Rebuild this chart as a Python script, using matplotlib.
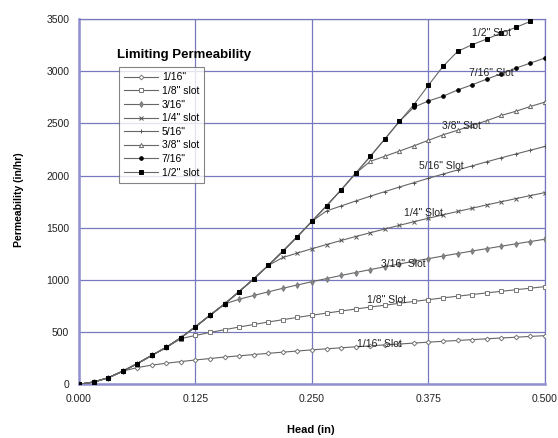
import matplotlib

matplotlib.use("Agg")
import matplotlib.pyplot as plt

plt.rcParams["font.family"] = ["Liberation Sans", "DejaVu Sans"]

# head readings (in), every 1/64"
head = [0.0000, 0.0156, 0.0313, 0.0469, 0.0625, 0.0781, 0.0938, 0.1094, 0.1250,
        0.1406, 0.1563, 0.1719, 0.1875, 0.2031, 0.2188, 0.2344, 0.2500, 0.2656,
        0.2813, 0.2969, 0.3125, 0.3281, 0.3438, 0.3594, 0.3750, 0.3906, 0.4063,
        0.4219, 0.4375, 0.4531, 0.4688, 0.4844, 0.5000]

# permeability (in/hr) for each slot width
perm_1_16 = [0, 22, 62, 126, 160, 184, 202, 218, 233, 247, 261, 273, 285, 297, 308, 319, 330,
             340, 350, 359, 368, 378, 386, 395, 404, 412, 420, 428, 436, 444, 451, 459, 466]
perm_1_8 = [0, 22, 62, 126, 198, 277, 355, 438, 468, 497, 523, 549, 573, 597, 619, 641, 662,
            682, 702, 721, 740, 758, 776, 794, 811, 828, 844, 860, 876, 891, 906, 921, 936]
perm_3_16 = [0, 22, 62, 126, 198, 277, 355, 447, 552, 662, 770, 815, 851, 886, 920, 952, 983,
             1013, 1043, 1071, 1099, 1126, 1153, 1179, 1204, 1229, 1253, 1277, 1300, 1323,
             1346, 1368, 1390]
perm_1_4 = [0, 22, 62, 126, 198, 277, 355, 447, 552, 662, 770, 889, 1010, 1139, 1215, 1258,
            1299, 1339, 1378, 1416, 1452, 1488, 1523, 1558, 1591, 1624, 1656, 1687, 1719,
            1749, 1779, 1808, 1837]
perm_5_16 = [0, 22, 62, 126, 198, 277, 355, 447, 552, 662, 770, 889, 1010, 1139, 1275, 1416,
             1562, 1661, 1709, 1756, 1802, 1846, 1890, 1932, 1974, 2014, 2054, 2093, 2132,
             2170, 2207, 2243, 2279]
perm_3_8 = [0, 22, 62, 126, 198, 277, 355, 447, 552, 662, 770, 889, 1010, 1139, 1275, 1416,
            1562, 1710, 1863, 2022, 2136, 2185, 2234, 2285, 2338, 2390, 2434, 2480, 2526,
            2576, 2616, 2662, 2704]
perm_7_16 = [0, 22, 62, 126, 198, 277, 355, 447, 552, 662, 770, 889, 1010, 1139, 1275, 1416,
             1562, 1710, 1863, 2022, 2183, 2349, 2518, 2655, 2715, 2760, 2820, 2870, 2924,
             2976, 3029, 3078, 3126]
perm_1_2 = [0, 22, 62, 126, 198, 277, 355, 447, 552, 662, 770, 889, 1010, 1139, 1275, 1416,
            1562, 1710, 1863, 2022, 2183, 2349, 2518, 2680, 2866, 3046, 3190, 3254, 3308,
            3366, 3420, 3477]

legend_labels = ['1/16"', '1/8" slot', '3/16"', '1/4" slot',
                 '5/16"', '3/8" slot', '7/16"', '1/2" slot']
curve_labels = ['1/16" Slot', '1/8" Slot', '3/16" Slot', '1/4" Slot',
                '5/16" Slot', '3/8" Slot', '7/16" Slot', '1/2" Slot']
# where each curve name sits (head, permeability)
label_x = [0.322, 0.330, 0.348, 0.370, 0.389, 0.410, 0.442, 0.443]
label_y = [387, 809, 1154, 1643, 2093, 2476, 2985, 3369]

series = [perm_1_16, perm_1_8, perm_3_16, perm_1_4, perm_5_16, perm_3_8, perm_7_16, perm_1_2]
styles = [
    dict(marker="D", ms=2.4, mfc="white", mec="#777777"),
    dict(marker="s", ms=2.8, mfc="white", mec="#777777"),
    dict(marker="d", ms=3.0, mfc="#888888", mec="#777777"),
    dict(marker="x", ms=3.0, mec="#555555"),
    dict(marker="+", ms=3.4, mec="#555555"),
    dict(marker="^", ms=3.0, mfc="white", mec="#666666"),
    dict(marker="o", ms=2.6, mfc="black", mec="black"),
    dict(marker="s", ms=3.0, mfc="black", mec="black"),
]

grid_color = "#7878c0"

fig = plt.figure(figsize=(5.58, 4.38), dpi=100)
ax = fig.add_axes([0.1416, 0.1226, 0.835, 0.834])

for i, (vals, style, name) in enumerate(zip(series, styles, legend_labels)):
    ax.plot(head[:len(vals)], vals, color="#666666", lw=0.8, label=name,
            zorder=3 + i, mew=0.7, **style)

for x, y, txt in zip(label_x, label_y, curve_labels):
    ax.text(x, y, txt, fontsize=7.5, ha="center", va="center", color="#222222", zorder=20)

ax.set_xlim(0, 0.5)
ax.set_ylim(0, 3500)
ax.set_xticks([0, 0.125, 0.25, 0.375, 0.5])
ax.set_xticklabels(["0.000", "0.125", "0.250", "0.375", "0.500"])
ax.set_yticks(range(0, 3501, 500))
ax.tick_params(length=0, labelsize=7.5, colors="#222222", pad=7)
ax.grid(True, color=grid_color, lw=0.9)
ax.set_axisbelow(True)
for side in ["top", "right"]:
    ax.spines[side].set_color(grid_color)
    ax.spines[side].set_linewidth(0.9)
for side in ["left", "bottom"]:
    ax.spines[side].set_color("#9090d0")
    ax.spines[side].set_linewidth(1.8)

fig.text(0.557, 0.006, "Head (in)", fontsize=8, fontweight="bold", ha="center", va="bottom")
fig.text(0.034, 0.545, "Permeability (in/hr)", fontsize=7.5, fontweight="bold",
         rotation=90, ha="center", va="center")

fig.text(0.21, 0.875, "Limiting Permeability", fontsize=9.5, fontweight="bold",
         ha="left", va="center", zorder=30)
leg = ax.legend(loc="upper left", bbox_to_anchor=(0.2133, 0.847), bbox_transform=fig.transFigure,
                borderaxespad=0, fontsize=7.5, frameon=True, fancybox=False,
                handlelength=3.2, labelspacing=0.35, borderpad=0.5, handletextpad=0.4)
leg.get_frame().set_edgecolor("#666666")
leg.get_frame().set_linewidth(0.8)
leg.set_zorder(25)

fig.savefig("out.png", dpi=100)
